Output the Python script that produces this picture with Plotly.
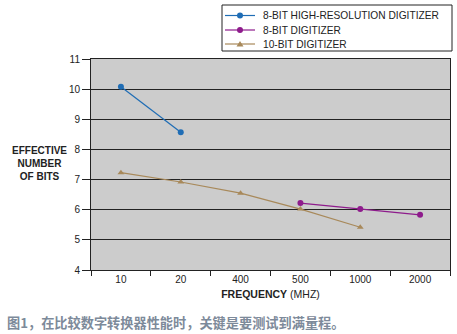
import plotly.graph_objects as go

categories = ["10", "20", "400", "500", "1000", "2000"]
hr_x = ["10", "20"]
hr_y = [10.08, 8.57]
b8_x = ["500", "1000", "2000"]
b8_y = [6.22, 6.02, 5.83]
b10_x = ["10", "20", "400", "500", "1000"]
b10_y = [7.23, 6.92, 6.55, 6.02, 5.42]
y_ticks = [4, 5, 6, 7, 8, 9, 10, 11]

series = [
    ("8-BIT HIGH-RESOLUTION DIGITIZER", hr_x, hr_y, "#1f6db5", "circle"),
    ("8-BIT DIGITIZER", b8_x, b8_y, "#8e1b8c", "circle"),
    ("10-BIT DIGITIZER", b10_x, b10_y, "#a8895a", "triangle-up"),
]

fig = go.Figure()
for name, xs, ys, col, sym in series:
    fig.add_trace(go.Scatter(x=xs, y=ys, mode="lines+markers", name=name,
                             line=dict(color=col, width=1.2),
                             marker=dict(size=6, color=col, symbol=sym)))

# manual compact legend (paper coords)
PW, PH, L, B = 359.0, 211.0, 91.0, 270.0
def px(x):
    return (x - L) / PW
def py(y):
    return (B - y) / PH

shapes = [dict(type="rect", xref="paper", yref="paper", x0=px(222), x1=px(452), y0=py(51), y1=py(5),
               line=dict(color="#222", width=1), fillcolor="white", layer="above")]
annotations = []
rows = [15.5, 30, 44]
for (name, xs, ys, col, sym), ry in zip(series, rows):
    shapes.append(dict(type="line", xref="paper", yref="paper", x0=px(225), x1=px(255),
                       y0=py(ry), y1=py(ry), line=dict(color=col, width=1.2), layer="above"))
    if sym == "circle":
        shapes.append(dict(type="circle", xref="paper", yref="paper", x0=px(237), x1=px(243),
                           y0=py(ry + 3), y1=py(ry - 3), line=dict(color=col, width=0),
                           fillcolor=col, layer="above"))
    else:
        shapes.append(dict(type="path", xref="paper", yref="paper",
                           path=f"M {px(236.5)} {py(ry + 2.5)} L {px(243.5)} {py(ry + 2.5)} L {px(240)} {py(ry - 3)} Z",
                           line=dict(color=col, width=0), fillcolor=col, layer="above"))
    annotations.append(dict(text=name, xref="paper", yref="paper", x=px(261), y=py(ry),
                            xanchor="left", yanchor="middle", showarrow=False,
                            font=dict(size=10.2, color="#222")))

annotations += [
    dict(text="<b>EFFECTIVE<br>NUMBER<br>OF BITS</b>", xref="paper", yref="paper",
         x=px(69), y=py(163), xanchor="right", yanchor="middle", showarrow=False,
         align="center", font=dict(size=10, color="#222")),
    dict(text="<b>图1，在比较数字转换器性能时，关键是要测试到满量程。</b>", xref="paper", yref="paper",
         x=px(5), y=py(322), xanchor="left", yanchor="middle", showarrow=False,
         font=dict(family="Noto Sans CJK SC", size=13.2, color="#7d8a9a")),
]

fig.update_layout(
    width=457, height=334,
    margin=dict(l=91, r=7, t=59, b=64),
    paper_bgcolor="white", plot_bgcolor="#cccccc",
    font=dict(family="Liberation Sans, Arial, sans-serif", size=9, color="#222"),
    showlegend=False,
    xaxis=dict(type="category", categoryorder="array", categoryarray=categories,
               tickson="boundaries", ticks="outside", ticklen=5, tickcolor="#222",
               showline=True, linecolor="#222", linewidth=1, mirror=True,
               showgrid=False, range=[-0.5, 5.5], tickfont=dict(size=10),
               title=dict(text="<b>FREQUENCY</b> (MHZ)", font=dict(size=10.5), standoff=6)),
    yaxis=dict(range=[4, 11], tickvals=y_ticks, ticks="outside", ticklen=8, tickcolor="#222",
               showline=True, linecolor="#222", linewidth=1, mirror=True,
               showgrid=True, gridcolor="#222", gridwidth=1, zeroline=False,
               tickfont=dict(size=10)),
    shapes=shapes,
    annotations=annotations,
)

fig.write_html("out.html")
